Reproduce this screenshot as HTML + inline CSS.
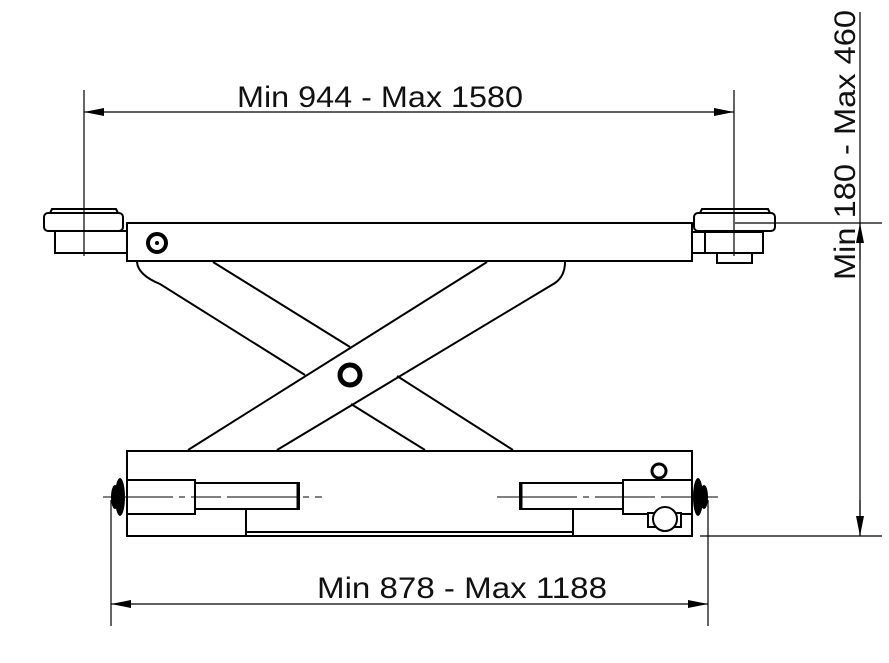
<!DOCTYPE html>
<html><head><style>body{margin:0;background:#fff}svg{display:block}</style></head>
<body>
<svg width="889" height="663" viewBox="0 0 889 663" xmlns="http://www.w3.org/2000/svg">
<defs>
<marker id="a" viewBox="0 0 20 8" refX="20" refY="4" markerWidth="20" markerHeight="8" orient="auto-start-reverse" markerUnits="userSpaceOnUse"><path d="M0,0 L20,4 L0,8 z" fill="#000"/></marker>
</defs>
<g fill="none" stroke="#000" stroke-width="1.2">
<line x1="84" y1="90" x2="84" y2="256"/>
<line x1="734" y1="90" x2="734" y2="256"/>
<line x1="735" y1="223" x2="882" y2="223"/>
<line x1="700" y1="536" x2="882" y2="536"/>
<line x1="111" y1="500" x2="111" y2="626"/>
<line x1="708" y1="500" x2="708" y2="626"/>
<line x1="84" y1="112" x2="734" y2="112" marker-start="url(#a)" marker-end="url(#a)"/>
<line x1="111" y1="604" x2="708" y2="604" marker-start="url(#a)" marker-end="url(#a)"/>
<line x1="860" y1="12" x2="860" y2="536" />
<line x1="860" y1="260" x2="860" y2="223" marker-end="url(#a)"/>
<line x1="860" y1="500" x2="860" y2="536" marker-end="url(#a)"/>
</g>
<g fill="none" stroke="#000" stroke-width="2">
<rect x="127" y="223" width="565" height="38"/>
<rect x="44" y="213" width="79" height="18" rx="4"/>
<path d="M50,213 L52,209 L116,209 L118,213"/>
<rect x="55" y="231" width="72" height="22"/>
<rect x="694" y="213" width="81" height="18" rx="4"/>
<path d="M700,213 L702,209 L768,209 L770,213"/>
<rect x="692" y="232" width="13" height="21"/>
<rect x="705" y="232" width="58" height="21"/>
<rect x="717" y="253" width="35" height="10"/>
<path d="M137,262 Q138,275 160,284 L305,375"/>
<line x1="213" y1="262" x2="350" y2="347"/>
<line x1="397" y1="376" x2="513" y2="450"/>
<line x1="351" y1="404" x2="425" y2="450"/>
<line x1="188" y1="450" x2="487" y2="262"/>
<path d="M277,450 L555,283 Q565,276 565,262"/>
<rect x="127" y="451" width="565" height="85"/>
<rect x="127" y="480" width="68" height="34"/>
<rect x="195" y="483" width="104" height="26"/>
<rect x="520" y="483" width="103" height="26"/>
<rect x="623" y="480" width="69" height="34"/>
<line x1="246" y1="509" x2="246" y2="536"/>
<line x1="573" y1="509" x2="573" y2="536"/>
<line x1="246" y1="532" x2="573" y2="532"/>
</g>
<g stroke="#000" stroke-width="3" fill="none">
<line x1="298" y1="484" x2="298" y2="508"/>
<line x1="521" y1="484" x2="521" y2="508"/>
</g>
<g stroke="#000" stroke-width="1" fill="none">
<line x1="103" y1="497" x2="322" y2="497" stroke-dasharray="70,6,6,6,30,6"/>
<line x1="497" y1="497" x2="718" y2="497" stroke-dasharray="80,6,6,6,60,6"/>
</g>
<ellipse cx="120" cy="497" rx="5" ry="19" fill="#000"/>
<ellipse cx="115" cy="497" rx="4" ry="12" fill="#000"/>
<ellipse cx="698" cy="497" rx="5" ry="19" fill="#000"/>
<ellipse cx="704" cy="497" rx="4" ry="12" fill="#000"/>
<circle cx="157" cy="243" r="9" fill="none" stroke="#000" stroke-width="4"/>
<circle cx="157" cy="243" r="2" fill="#000"/>
<circle cx="350" cy="375" r="10" fill="none" stroke="#000" stroke-width="5"/>
<circle cx="659" cy="471" r="7" fill="none" stroke="#000" stroke-width="3"/>
<rect x="648" y="513" width="33" height="14" fill="#fff" stroke="#000" stroke-width="2"/>
<circle cx="665" cy="519" r="12" fill="#fff" stroke="#000" stroke-width="2"/>
<g font-family="Liberation Sans, sans-serif" font-size="30" fill="#111">
<text x="380" y="107" text-anchor="middle" textLength="286" lengthAdjust="spacingAndGlyphs">Min 944 - Max 1580</text>
<text x="462" y="598" text-anchor="middle" textLength="290" lengthAdjust="spacingAndGlyphs">Min 878 - Max 1188</text>
<text transform="translate(855,145) rotate(-90)" text-anchor="middle" textLength="270" lengthAdjust="spacingAndGlyphs">Min 180 - Max 460</text>
</g>
</svg>
</body></html>
